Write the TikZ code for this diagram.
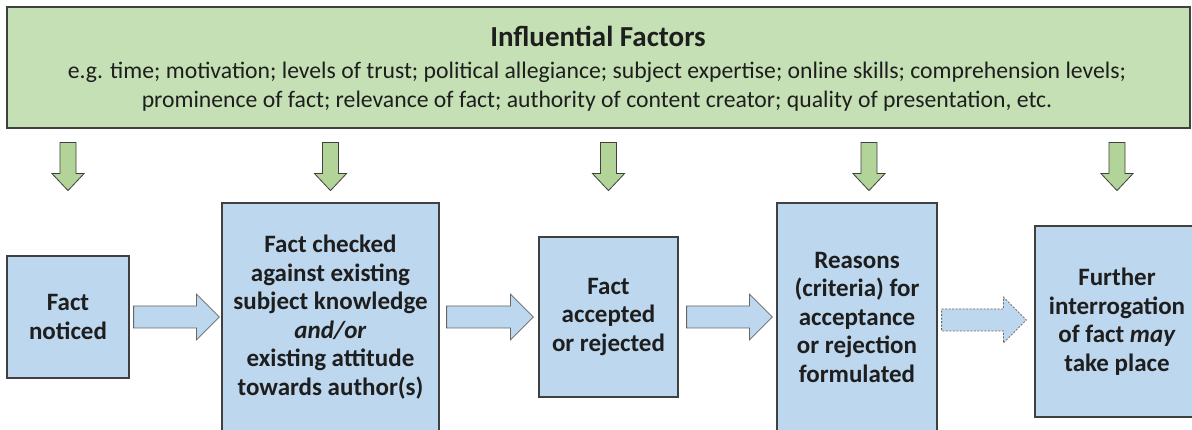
\documentclass[tikz,border=0pt]{standalone}
\usepackage{fontspec}
\setmainfont{Carlito}
\usetikzlibrary{positioning,calc}

\definecolor{factorgreen}{RGB}{197,224,180}
\definecolor{arrowgreen}{RGB}{178,212,152}
\definecolor{stepblue}{RGB}{189,215,238}
\definecolor{edgegray}{RGB}{64,64,64}
\definecolor{textdark}{RGB}{30,30,30}

\tikzset{
  stepbox/.style={draw=edgegray, fill=stepblue, line width=1.2pt, align=center,
    inner sep=0pt, text=textdark, font=\bfseries\fontsize{25}{28.5}\selectfont},
  flowarrow/.style={draw=edgegray!80, fill=stepblue, line width=0.8pt, line join=miter},
  inflarrow/.style={draw=edgegray, fill=arrowgreen, line width=0.8pt, line join=miter}
}

% block arrow pointing right, from #2 to #3
\newcommand{\blockarrow}[3][flowarrow]{%
  \draw[#1] let \p1=(#2), \p2=(#3) in
    (\x1,\y1+11pt) -- (\x2-23pt,\y1+11pt) -- (\x2-23pt,\y1+23pt) -- (\x2,\y1)
    -- (\x2-23pt,\y1-23pt) -- (\x2-23pt,\y1-11pt) -- (\x1,\y1-11pt) -- cycle;}

% block arrow pointing down, top centre at #1
\newcommand{\downblock}[1]{%
  \draw[inflarrow] let \p1=(#1) in
    (\x1-8pt,\y1) -- (\x1-8pt,\y1-31pt) -- (\x1-16pt,\y1-31pt) -- (\x1,\y1-48pt)
    -- (\x1+16pt,\y1-31pt) -- (\x1+8pt,\y1-31pt) -- (\x1+8pt,\y1) -- cycle;}

\begin{document}
\begin{tikzpicture}[x=1pt,y=1pt]
\useasboundingbox (0,0) rectangle (1192,-430);
\clip (0,0) rectangle (1192,-430);
\fill[white] (0,0) rectangle (1192,-430);

% factors banner
\node[draw=edgegray, fill=factorgreen, line width=1.2pt, minimum width=1183pt,
  minimum height=121pt, inner sep=0pt] (factors) at (598.5,-67.5) {};
\node[text=textdark, font=\bfseries\fontsize{29}{32}\selectfont, inner sep=0pt,
  anchor=base] (facttitle) at (598,-47) {Influential Factors};
% base of a multi-line node sits on its last line
\node[align=center, text=textdark, font=\fontsize{23.7}{29}\selectfont, inner sep=0pt,
  anchor=base] (factlist) at (597,-108)
  {e.g. time; motivation; levels of trust; political allegiance; subject expertise; online skills; comprehension levels;\\
   prominence of fact; relevance of fact; authority of content creator; quality of presentation, etc.};

% process steps
\node[stepbox, minimum width=122pt, minimum height=122pt] (n1) at (68,-317)
  {Fact\\noticed};
\node[stepbox, minimum width=217pt, minimum height=228pt] (n2) at (330.5,-317)
  {Fact checked\\against existing\\subject knowledge\\\textit{and/or}\\existing attitude\\towards author(s)};
\node[stepbox, minimum width=139pt, minimum height=160pt] (n3) at (608.5,-317)
  {Fact\\accepted\\or rejected};
\node[stepbox, minimum width=160pt, minimum height=228pt] (n4) at (857,-317)
  {Reasons\\(criteria) for\\acceptance\\or rejection\\formulated};
\node[stepbox, minimum width=164pt, minimum height=191pt] (n5) at (1117,-321.5)
  {Further\\interrogation\\of fact \textit{may}\\take place};

% arrows between steps
\blockarrow{[xshift=4pt]n1.east}{[xshift=-2pt]n2.west}
\blockarrow{[xshift=7pt]n2.east}{[xshift=-5pt]n3.west}
\blockarrow{[xshift=8pt]n3.east}{[xshift=-4pt]n4.west}
\blockarrow[flowarrow, dashed, dash pattern=on 2pt off 1.5pt]{[xshift=4pt,yshift=-3pt]n4.east}{[xshift=-8pt]n5.west}

% factors acting on each step
\foreach \stepname/\dx in {n1/0, n2/0, n3/0, n4/12, n5/0}
  \downblock{$(factors.south -| \stepname.north)+(\dx,-14)$};
\end{tikzpicture}
\end{document}
